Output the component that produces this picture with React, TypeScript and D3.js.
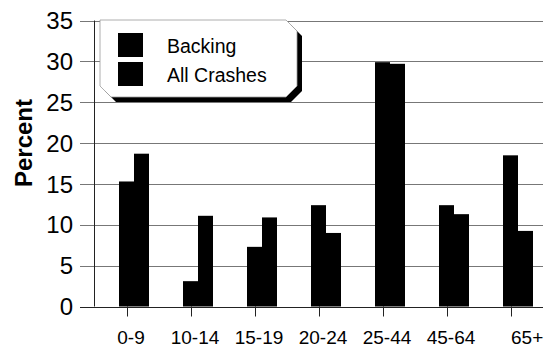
import React, { useEffect, useRef } from "react";
import * as d3 from "d3";

// age groups along the bottom
const ageGroups = ["0-9", "10-14", "15-19", "20-24", "25-44", "45-64", "65+"];
const seriesNames = ["Backing", "All Crashes"];
// percent of crashes per age group
const backing = [15.3, 3.1, 7.3, 12.4, 29.9, 12.4, 18.5];
const allCrashes = [18.7, 11.1, 10.9, 9.0, 29.7, 11.3, 9.25];
const yTicks = [0, 5, 10, 15, 20, 25, 30, 35];

const App = () => {
  const chartRef = useRef<SVGSVGElement | null>(null);

  useEffect(() => {
    if (!chartRef.current) return;
    const svg = d3.select(chartRef.current);
    svg.selectAll("*").remove();

    const width = 546;
    const height = 347;
    const axisX = 94;
    const gridRight = 543;
    const font = "'Liberation Sans', Arial, Helvetica, sans-serif";

    svg.attr("viewBox", `0 0 ${width} ${height}`);

    const y = d3.scaleLinear().domain([0, 35]).range([306.5, 20.5]);
    // group centres
    const x = d3.scalePoint().domain(ageGroups).range([134, 518]);
    // bars inside a group
    const x1 = d3.scaleBand().domain(seriesNames).range([-15, 15]).padding(0);

    const data = ageGroups.map((g, i) => ({
      group: g,
      values: [
        { name: seriesNames[0], value: backing[i] },
        { name: seriesNames[1], value: allCrashes[i] },
      ],
    }));

    // gridlines + left ticks
    const grid = svg.append("g");
    grid
      .selectAll("line")
      .data(yTicks)
      .join("line")
      .attr("x1", axisX - 14)
      .attr("x2", gridRight)
      .attr("y1", (d) => Math.round(y(d)) + 0.5)
      .attr("y2", (d) => Math.round(y(d)) + 0.5)
      .attr("stroke", (d) => (d === 0 ? "#222" : "#777"))
      .attr("stroke-width", 1);

    grid
      .selectAll("text")
      .data(yTicks)
      .join("text")
      .attr("x", 73)
      .attr("y", (d) => y(d))
      .attr("dy", "0.36em")
      .attr("text-anchor", "end")
      .attr("font-family", font)
      .attr("font-size", 24)
      .attr("fill", "#000")
      .text((d) => d);

    // y axis line
    svg
      .append("line")
      .attr("x1", axisX + 0.5)
      .attr("x2", axisX + 0.5)
      .attr("y1", y(35))
      .attr("y2", y(0))
      .attr("stroke", "#222");

    // y axis title
    svg
      .append("text")
      .attr("transform", `translate(32,143) rotate(-90)`)
      .attr("text-anchor", "middle")
      .attr("font-family", font)
      .attr("font-size", 24)
      .attr("font-weight", "bold")
      .attr("fill", "#000")
      .text("Percent");

    // x ticks and labels
    const xg = svg.append("g");
    xg.selectAll("line")
      .data(ageGroups)
      .join("line")
      .attr("x1", (d) => (x(d) as number) - 7 + 0.5)
      .attr("x2", (d) => (x(d) as number) - 7 + 0.5)
      .attr("y1", y(0))
      .attr("y2", y(0) + 10)
      .attr("stroke", "#222");

    xg.selectAll("text")
      .data(ageGroups)
      .join("text")
      .attr("x", (d, i) =>
        i === ageGroups.length - 1 ? (x(d) as number) - 7 : (x(d) as number) - 3
      )
      .attr("y", 344)
      .attr("text-anchor", (d, i) => (i === ageGroups.length - 1 ? "start" : "middle"))
      .attr("font-family", font)
      .attr("font-size", 19)
      .attr("fill", "#000")
      .text((d) => d);

    // bars
    svg
      .append("g")
      .selectAll("g")
      .data(data)
      .join("g")
      .attr("transform", (d) => `translate(${x(d.group)},0)`)
      .selectAll("rect")
      .data((d) => d.values)
      .join("rect")
      .attr("x", (d) => x1(d.name) as number)
      .attr("y", (d) => y(d.value))
      .attr("width", x1.bandwidth())
      .attr("height", (d) => y(0) - y(d.value))
      .attr("fill", "#000");

    // legend: white box with bevelled corners and a heavy drop shadow
    const lx0 = 100;
    const lx1 = 297;
    const ly0 = 20;
    const ly1 = 97;
    const cut = 11;
    const boxPath = (dx: number, dy: number) =>
      [
        [lx0 + dx, ly0 + dy],
        [lx1 - cut + dx, ly0 + dy],
        [lx1 + dx, ly0 + cut + dy],
        [lx1 + dx, ly1 - cut + dy],
        [lx1 - cut + dx, ly1 + dy],
        [lx0 + cut + dx, ly1 + dy],
        [lx0 + dx, ly1 - cut + dy],
      ];
    const line = d3.line();
    const legend = svg.append("g");
    legend
      .append("path")
      .attr("d", line(boxPath(5, 5) as [number, number][]) + "Z")
      .attr("fill", "#000");
    legend
      .append("path")
      .attr("d", line(boxPath(0, 0) as [number, number][]) + "Z")
      .attr("fill", "#fff")
      .attr("stroke", "#9a9a9a")
      .attr("stroke-width", 0.8);

    const items = legend
      .selectAll("g")
      .data(seriesNames)
      .join("g")
      .attr("transform", (d, i) => `translate(118,${33 + i * 29})`);
    items
      .append("rect")
      .attr("width", 25)
      .attr("height", 24)
      .attr("fill", "#000");
    items
      .append("text")
      .attr("x", 49)
      .attr("y", 20)
      .attr("font-family", font)
      .attr("font-size", 19.5)
      .attr("fill", "#000")
      .text((d) => d);
  }, []);

  return (
    <svg
      ref={chartRef}
      width={546}
      height={347}
      style={{ position: "absolute", left: 0, top: 0, background: "#fff" }}
    ></svg>
  );
};

export default App;
